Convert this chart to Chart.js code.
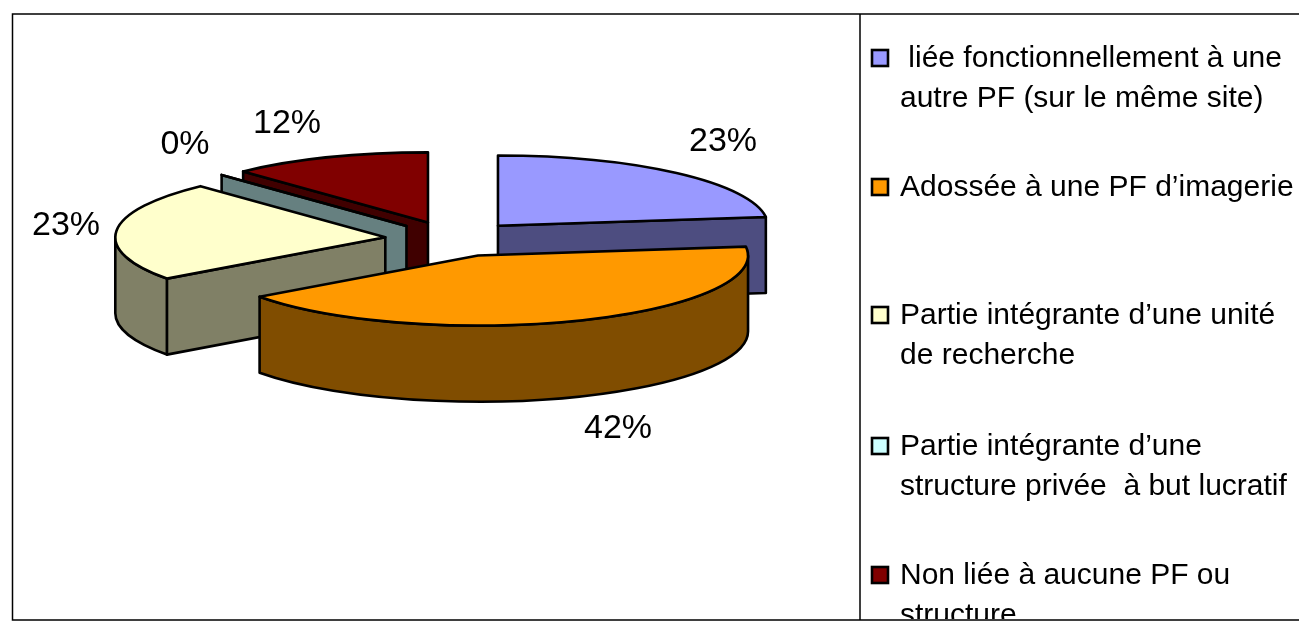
<!DOCTYPE html>
<html lang="fr">
<head>
<meta charset="utf-8">
<style>
html,body{margin:0;padding:0;background:#fff;overflow:hidden}
#wrap{position:absolute;left:0;top:0;width:1299px;height:621px}
</style>
<script src="https://cdn.jsdelivr.net/npm/chart.js@4/dist/chart.umd.min.js"></script>
</head>
<body>
<div id="wrap"><canvas id="c" width="1299" height="621"></canvas></div>
<script>
const categories = [
  " liée fonctionnellement à une|autre PF (sur le même site)",
  "Adossée à une PF d’imagerie",
  "Partie intégrante d’une unité|de recherche",
  "Partie intégrante d’une|structure privée  à but lucratif",
  "Non liée à aucune PF ou|structure"
];
const percentages = [23, 42, 23, 0, 12];
const topColors  = ["#9999FF", "#FF9900", "#FFFFCC", "#CCFFFF", "#800000"];
const sideColors = ["#4D4D80", "#804D00", "#808066", "#668080", "#400000"];
const percentLabelCenters = [[723,142],[618,429],[66,226],[185,145],[287,124]];
const legendRows = [59,188,316,447,576];
const drawOrder = [4,3,0,2,1];

const TILT = 0.26, DEPTH = 76, EXPLODE = 68, RADIUS = 270;
const FONT = '"Liberation Sans", Arial, sans-serif';

function apex(el){
  const mid = (el.startAngle + el.endAngle) / 2;
  return {x: el.x + Math.cos(mid)*EXPLODE, y: el.y + Math.sin(mid)*EXPLODE*TILT};
}

const pie3d = {
  id: 'pie3d',
  beforeDatasetsDraw(chart){
    const ctx = chart.ctx, arcs = chart.getDatasetMeta(0).data;
    drawOrder.forEach(i => {
      const el = arcs[i], a = apex(el), rx = el.outerRadius, ry = rx*TILT;
      const s = el.startAngle, e = el.endAngle;
      const px = t => a.x + Math.cos(t)*rx, py = t => a.y + Math.sin(t)*ry;
      ctx.save();
      ctx.lineWidth = 2.6; ctx.strokeStyle = '#000'; ctx.lineJoin = 'round';
      ctx.fillStyle = sideColors[i];
      const quad = t => {
        ctx.beginPath();
        ctx.moveTo(a.x,a.y); ctx.lineTo(px(t),py(t));
        ctx.lineTo(px(t),py(t)+DEPTH); ctx.lineTo(a.x,a.y+DEPTH); ctx.closePath();
        ctx.fill(); ctx.stroke();
      };
      // radial faces turned toward the viewer
      if (Math.cos(s) < -1e-6) quad(s);
      if (Math.cos(e) > 1e-6) quad(e);
      // front rim
      const r0 = Math.max(s, 0), r1 = Math.min(e, Math.PI);
      if (r1 > r0) {
        ctx.beginPath();
        ctx.ellipse(a.x,a.y,rx,ry,0,r0,r1,false);
        ctx.ellipse(a.x,a.y+DEPTH,rx,ry,0,r1,r0,true);
        ctx.closePath(); ctx.fill(); ctx.stroke();
      }
      ctx.restore();
      // top face: the library's own arc element, squashed and moved
      ctx.save();
      ctx.translate(a.x, a.y);
      ctx.scale(1, TILT);
      ctx.translate(-el.x, -el.y);
      el.draw(ctx);
      ctx.restore();
      // outline of the top face
      ctx.save();
      ctx.lineWidth = 2.6; ctx.strokeStyle = '#000'; ctx.lineJoin = 'round';
      ctx.beginPath();
      ctx.moveTo(a.x,a.y);
      ctx.ellipse(a.x,a.y,rx,ry,0,s,e,false);
      ctx.closePath(); ctx.stroke();
      ctx.restore();
    });
    return false;
  },
  afterDraw(chart){
    const ctx = chart.ctx;
    ctx.save();
    ctx.fillStyle = '#000';
    ctx.textBaseline = 'middle';
    // percentage labels
    ctx.font = '34px ' + FONT;
    ctx.textAlign = 'center';
    percentages.forEach((v,i) => {
      const p = percentLabelCenters[i];
      ctx.fillText(v + '%', p[0], p[1]);
    });
    // legend, clipped by the frame at the bottom
    ctx.save();
    ctx.beginPath(); ctx.rect(861,14,438,605); ctx.clip();
    ctx.textAlign = 'left';
    ctx.font = '30px ' + FONT;
    categories.forEach((label,i) => {
      const y = legendRows[i];
      ctx.fillStyle = topColors[i];
      ctx.strokeStyle = '#000'; ctx.lineWidth = 2.6;
      ctx.fillRect(872,y-9,16,16); ctx.strokeRect(872,y-9,16,16);
      ctx.fillStyle = '#000';
      label.split('|').forEach((line,k) => ctx.fillText(line, 900, y + k*40));
    });
    ctx.restore();
    // frame
    ctx.strokeStyle = '#000'; ctx.lineWidth = 1.5;
    ctx.beginPath();
    ctx.moveTo(1299,14); ctx.lineTo(12.5,14); ctx.lineTo(12.5,620); ctx.lineTo(1299,620);
    ctx.moveTo(860,14); ctx.lineTo(860,620);
    ctx.stroke();
    ctx.restore();
  }
};

new Chart(document.getElementById('c'), {
  type: 'pie',
  data: {
    labels: categories,
    datasets: [{ data: percentages, backgroundColor: topColors, borderWidth: 0 }]
  },
  options: {
    responsive: false,
    animation: false,
    radius: RADIUS,
    layout: { padding: { left: 0, top: 0, right: 393, bottom: 143 } },
    plugins: { legend: { display: false }, tooltip: { enabled: false } }
  },
  plugins: [pie3d]
});
</script>
</body>
</html>
